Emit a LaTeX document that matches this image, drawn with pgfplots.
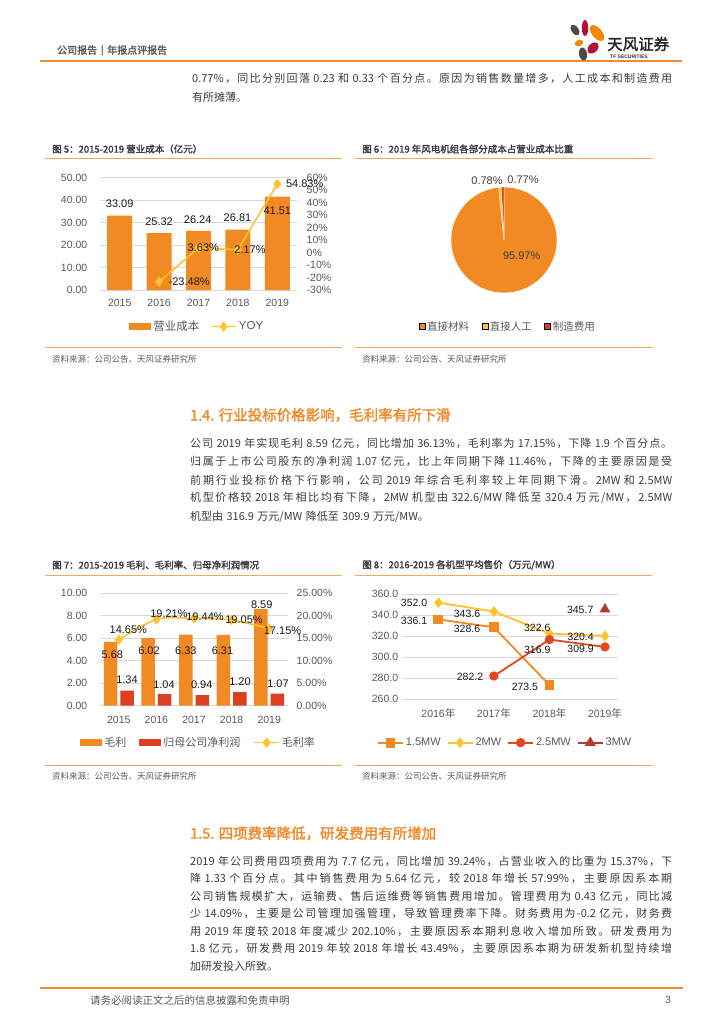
\documentclass[border=0pt]{standalone}
\usepackage{fontspec}
\setmainfont{Liberation Sans}
\newfontfamily\cjk[AutoFakeBold=2]{Noto Sans CJK SC}
\usepackage{pgfplots}
\pgfplotsset{compat=1.18}
\newXeTeXintercharclass\cjkcls
\newcount\cc
\cc="2E80
\loop \XeTeXcharclass\cc=\cjkcls \advance\cc by 1\relax \ifnum\cc<"A000 \repeat
\cc="FF00
\loop \XeTeXcharclass\cc=\cjkcls \advance\cc by 1\relax \ifnum\cc<"FFF0 \repeat
\XeTeXinterchartokenstate=1
\XeTeXinterchartoks\cjkcls\cjkcls={\hskip 0pt plus 1fil\relax}
\XeTeXinterchartoks 0 \cjkcls={\hskip 0pt plus 1fil\relax}
\XeTeXinterchartoks\cjkcls 0 ={\hskip 0pt plus 1fil\relax}
\newcommand\fs[1]{\fontsize{#1}{#1}\selectfont}
\definecolor{tforange}{HTML}{F28A24}
\definecolor{tfred}{HTML}{DC4020}
\definecolor{tfyellow}{HTML}{FFC12C}
\definecolor{tfdred}{HTML}{B43A2E}
\definecolor{tfred2}{HTML}{E2461F}
\definecolor{lineor}{HTML}{F5A660}
\definecolor{heador}{HTML}{F08A2A}
\definecolor{gridc}{HTML}{D9D9D9}
\definecolor{tickc}{HTML}{595959}
\definecolor{txt}{HTML}{3C3C3C}
\definecolor{lbl}{HTML}{1A1A1A}
\definecolor{logogray}{HTML}{4A4A4A}
\definecolor{logored}{HTML}{B0103A}
\definecolor{logoor}{HTML}{F08A00}
\pgfplotsset{
  barleg/.style={legend image code/.code={\fill[##1] (0pt,-3.6pt) rectangle (22pt,3.6pt);}},
  sqleg/.style={legend image code/.code={\fill[##1] (0pt,-3pt) rectangle (6pt,3pt);}},
  lineleg/.style={legend image code/.code={\draw[mark repeat=2,mark phase=2,##1] plot coordinates {(0pt,0pt) (12.5pt,0pt) (25pt,0pt)};}},
  tfbase/.style={scale only axis, clip=false, axis line style={draw=none}, major tick length=0pt,
     /pgf/number format/assume math mode=true,
     tick label style={font=\fs{10.5}, text=tickc},
     legend style={draw=none, fill=none, legend columns=-1, font=\fs{11}, text=tickc, inner sep=0pt, outer sep=0pt}},
}
\newcommand\JL[4]{\node[anchor=west,inner sep=0pt,text=txt] at (#1,#2) {\cjk\fs{11}\spaceskip=3.4pt plus 0.3pt\relax\hbox to #3pt{#4}};}
\newcommand\LL[3]{\node[anchor=west,inner sep=0pt,text=txt] at (#1,#2) {\cjk\fs{11}\spaceskip=3.4pt\relax #3};}
\begin{document}
\begin{tikzpicture}
\useasboundingbox (0,0) rectangle (724pt,-1024pt);
\fill[white] (0,0) rectangle (724pt,-1024pt);
\pgfmathsetmacro\ptot{95.97+0.78+0.77}
\pgfmathsetmacro\pA{95.97/\ptot*360}
\pgfmathsetmacro\pB{0.78/\ptot*360}
\pgfmathsetmacro\pC{0.77/\ptot*360}
\begin{scope}[x=1pt,y=-1pt]
% header
\node[anchor=west,inner sep=0pt,text=tickc] at (57,50) {\cjk\bfseries\fs{10}公司报告｜年报点评报告};
\draw[heador,line width=2pt] (40,61) -- (682,61);
\fill[logogray,rotate around={35:(575,30)}] (575,30) ellipse [x radius=3.5, y radius=6];
\fill[logored] (585,28) ellipse [x radius=3.2, y radius=8];
\fill[logoor,rotate around={40:(597,33)}] (597,33) ellipse [x radius=5, y radius=9.5];
\fill[logoor,rotate around={20:(579,43)}] (579,43) ellipse [x radius=4.5, y radius=3];
\fill[logored,rotate around={-45:(593,48)}] (593,48) ellipse [x radius=4.5, y radius=6.5];
\fill[logogray,rotate around={10:(583,54)}] (583,54) ellipse [x radius=4, y radius=6.5];
\node[anchor=west,inner sep=0pt,text=black!85] at (607,44) {\cjk\bfseries\fs{15.5}天风证券};
\node[anchor=west,inner sep=0pt,text=black!80] at (610,56.5) {\bfseries\fs{5}TF SECURITIES};
% intro paragraph
\JL{192}{78}{480}{0.77\%，同比分别回落 0.23 和 0.33 个百分点。原因为销售数量增多，人工成本和制造费用}
\LL{192}{97}{有所摊薄。}
% figure titles and rules
\node[anchor=west,inner sep=0pt,text=txt] at (52,149) {\cjk\bfseries\fs{9.5}图 5：2015-2019 营业成本（亿元）};
\node[anchor=west,inner sep=0pt,text=txt] at (362,149) {\cjk\bfseries\fs{9.5}图 6：2019 年风电机组各部分成本占营业成本比重};
\draw[lineor,line width=1pt] (45,158.3) -- (341.7,158.3);
\draw[lineor,line width=1pt] (355,158.3) -- (651.7,158.3);
\draw[lineor,line width=1pt] (45,347.3) -- (341.7,347.3);
\draw[lineor,line width=1pt] (355,347.3) -- (651.7,347.3);
\node[anchor=west,inner sep=0pt,text=tickc] at (52,359.3) {\cjk\fs{8.5}资料来源：公司公告、天风证券研究所};
\node[anchor=west,inner sep=0pt,text=tickc] at (362,359.3) {\cjk\fs{8.5}资料来源：公司公告、天风证券研究所};
% section 1.4
\node[anchor=west,inner sep=0pt,text=heador] at (190,415) {\cjk\bfseries\fs{14.5}1.4. 行业投标价格影响，毛利率有所下滑};
\JL{190}{443.3}{482}{公司 2019 年实现毛利 8.59 亿元，同比增加 36.13\%，毛利率为 17.15\%，下降 1.9 个百分点。}
\JL{190}{461.7}{482}{归属于上市公司股东的净利润 1.07 亿元，比上年同期下降 11.46\%，下降的主要原因是受}
\JL{190}{480}{482}{前期行业投标价格下行影响，公司 2019 年综合毛利率较上年同期下滑。2MW 和 2.5MW}
\JL{190}{498.3}{482}{机型价格较 2018 年相比均有下降，2MW 机型由 322.6/MW 降低至 320.4 万元/MW，2.5MW}
\LL{190}{516.7}{机型由 316.9 万元/MW 降低至 309.9 万元/MW。}
% figure 7/8 titles
\node[anchor=west,inner sep=0pt,text=txt] at (52,565) {\cjk\bfseries\fs{9.5}图 7：2015-2019 毛利、毛利率、归母净利润情况};
\node[anchor=west,inner sep=0pt,text=txt] at (362,565) {\cjk\bfseries\fs{9.5}图 8：2016-2019 各机型平均售价（万元/MW）};
\draw[lineor,line width=1pt] (45,575) -- (341.7,575);
\draw[lineor,line width=1pt] (355,575) -- (651.7,575);
\draw[lineor,line width=1pt] (45,765) -- (341.7,765);
\draw[lineor,line width=1pt] (355,765) -- (651.7,765);
\node[anchor=west,inner sep=0pt,text=tickc] at (52,776) {\cjk\fs{8.5}资料来源：公司公告、天风证券研究所};
\node[anchor=west,inner sep=0pt,text=tickc] at (362,776) {\cjk\fs{8.5}资料来源：公司公告、天风证券研究所};
% section 1.5
\node[anchor=west,inner sep=0pt,text=heador] at (190,833.3) {\cjk\bfseries\fs{14.5}1.5. 四项费率降低，研发费用有所增加};
\JL{190}{861.5}{482}{2019 年公司费用四项费用为 7.7 亿元，同比增加 39.24\%，占营业收入的比重为 15.37\%，下}
\JL{190}{878.9}{482}{降 1.33 个百分点。其中销售费用为 5.64 亿元，较 2018 年增长 57.99\%，主要原因系本期}
\JL{190}{896.3}{482}{公司销售规模扩大，运输费、售后运维费等销售费用增加。管理费用为 0.43 亿元，同比减}
\JL{190}{913.7}{482}{少 14.09\%，主要是公司管理加强管理，导致管理费率下降。财务费用为-0.2 亿元，财务费}
\JL{190}{931.1}{482}{用 2019 年度较 2018 年度减少 202.10\%，主要原因系本期利息收入增加所致。研发费用为}
\JL{190}{948.5}{482}{1.8 亿元，研发费用 2019 年较 2018 年增长 43.49\%，主要原因系本期为研发新机型持续增}
\LL{190}{965.9}{加研发投入所致。}
% footer
\draw[heador,line width=2pt] (40,988) -- (683,988);
\node[anchor=west,inner sep=0pt,text=tickc] at (90,1000) {\cjk\fs{10.5}请务必阅读正文之后的信息披露和免责申明};
\node[anchor=center,inner sep=0pt,text=tickc] at (668,1000) {\fs{10.5}3};
\end{scope}

% ---------------- Figure 5 ----------------
\begin{axis}[tfbase, at={(100pt,-290pt)}, anchor=south west,
  width=197pt, height=112.5pt,
  xmin=-0.5, xmax=4.5, ymin=0, ymax=50,
  ymajorgrids, grid style={gridc, line width=0.8pt},
  xtick={0,1,2,3,4}, xticklabels={2015,2016,2017,2018,2019},
  ytick={0,10,20,30,40,50},
  yticklabel={\pgfmathprintnumber[fixed,fixed zerofill,precision=2]{\tick}},
  yticklabel style={xshift=-9.2pt},
  xticklabel style={yshift=-5.5pt},
  ybar, bar width=25pt]
\addplot[fill=tforange, draw=none] coordinates {(0,33.09) (1,25.32) (2,26.24) (3,26.81) (4,41.51)};
\end{axis}
\begin{axis}[tfbase, at={(100pt,-290pt)}, anchor=south west,
  width=197pt, height=112.5pt,
  xmin=-0.5, xmax=4.5, ymin=-30, ymax=60,
  axis y line*=right, axis x line=none,
  ytick={-30,-20,-10,0,10,20,30,40,50,60},
  yticklabel={\pgfmathprintnumber[fixed,precision=0]{\tick}\%},
  yticklabel style={xshift=6.2pt},
  legend style={at={(0.494,-0.326)}, anchor=center, font=\fs{11.5},
    /tikz/every even column/.append style={column sep=9pt}}]
\addlegendimage{barleg, fill=tforange, draw=none}
\addlegendentry{\cjk 营业成本}
\addplot[lineleg, tfyellow, line width=1.6pt, mark=diamond*, mark size=4pt, mark options={fill=tfyellow}] coordinates {(1,-23.48) (2,3.63) (3,2.17) (4,54.83)};
\addlegendentry{YOY}
\end{axis}
\begin{axis}[tfbase, at={(100pt,-290pt)}, anchor=south west,
  width=197pt, height=112.5pt, hide axis,
  xmin=-0.5, xmax=4.5, ymin=-30, ymax=60]
\node[font=\fs{11},text=lbl] at (axis cs:0,38.92) {33.09};
\node[font=\fs{11},text=lbl] at (axis cs:1,24.74) {25.32};
\node[font=\fs{11},text=lbl] at (axis cs:1.98,26.11) {26.24};
\node[font=\fs{11},text=lbl] at (axis cs:2.99,27.94) {26.81};
\node[font=\fs{11},text=lbl] at (axis cs:4,33.31) {41.51};
\node[font=\fs{11},text=lbl] at (axis cs:1.764,-23.34) {-23.48\%};
\node[font=\fs{11},text=lbl] at (axis cs:2.122,3.43) {3.63\%};
\node[font=\fs{11},text=lbl] at (axis cs:3.307,2.06) {2.17\%};
\node[font=\fs{11},text=lbl] at (axis cs:4.695,54.96) {54.83\%};
\end{axis}

% ---------------- Figure 6 (pie) ----------------
\begin{axis}[tfbase, at={(504pt,-240pt)}, anchor=center,
  width=106pt, height=106pt, xmin=-1, xmax=1, ymin=-1, ymax=1, hide axis,
  legend style={at={(0.535,-0.315)}, anchor=center, font=\fs{10.5},
    /tikz/every even column/.append style={column sep=10.5pt}}]
\addlegendimage{sqleg, fill=tforange}
\addlegendentry{\cjk 直接材料}
\addlegendimage{sqleg, fill=tfyellow}
\addlegendentry{\cjk 直接人工}
\addlegendimage{sqleg, fill=tfred}
\addlegendentry{\cjk 制造费用}
\filldraw[fill=tforange, draw=white, line width=0.5pt] (axis cs:0,0) -- (axis cs:0,1) arc[start angle=90, delta angle=-\pA, radius=53pt] -- cycle;
\filldraw[fill=tfyellow, draw=white, line width=0.3pt] (axis cs:0,0) -- ++({90-\pA}:53pt) arc[start angle={90-\pA}, delta angle=-\pB, radius=53pt] -- cycle;
\filldraw[fill=tfred, draw=white, line width=0.3pt] (axis cs:0,0) -- ++({90-\pA-\pB}:53pt) arc[start angle={90-\pA-\pB}, delta angle=-\pC, radius=53pt] -- cycle;
\node[font=\fs{11},text=txt] at (axis cs:-0.321,1.123) {0.78\%};
\node[font=\fs{11},text=txt] at (axis cs:0.358,1.136) {0.77\%};
\node[font=\fs{11},text=txt] at (axis cs:0.333,-0.296) {95.97\%};
\end{axis}

% ---------------- Figure 7 ----------------
\begin{axis}[tfbase, at={(100pt,-705.7pt)}, anchor=south west,
  width=188pt, height=112.4pt,
  xmin=-0.5, xmax=4.5, ymin=0, ymax=10,
  ymajorgrids, grid style={gridc, line width=0.8pt},
  xtick={0,1,2,3,4}, xticklabels={2015,2016,2017,2018,2019},
  ytick={0,2,4,6,8,10},
  yticklabel={\pgfmathprintnumber[fixed,fixed zerofill,precision=2]{\tick}},
  yticklabel style={xshift=-9.2pt},
  xticklabel style={yshift=-7pt},
  ybar=3pt, bar width=13.5pt]
\addplot[fill=tforange, draw=none] coordinates {(0,5.68) (1,6.02) (2,6.33) (3,6.31) (4,8.59)};
\addplot[fill=tfred, draw=none] coordinates {(0,1.34) (1,1.04) (2,0.94) (3,1.20) (4,1.07)};
\end{axis}
\begin{axis}[tfbase, at={(100pt,-705.7pt)}, anchor=south west,
  width=188pt, height=112.4pt,
  xmin=-0.5, xmax=4.5, ymin=0, ymax=25,
  axis y line*=right, axis x line=none,
  ytick={0,5,10,15,20,25},
  yticklabel={\pgfmathprintnumber[fixed,fixed zerofill,precision=2]{\tick}\%},
  yticklabel style={xshift=5.2pt},
  legend style={at={(0.525,-0.329)}, anchor=center, font=\fs{11},
    /tikz/every even column/.append style={column sep=11pt}}]
\addlegendimage{barleg, fill=tforange, draw=none}
\addlegendentry{\cjk 毛利}
\addlegendimage{barleg, fill=tfred, draw=none}
\addlegendentry{\cjk 归母公司净利润}
\addplot[lineleg, tfyellow, line width=1.6pt, smooth, mark=diamond*, mark size=4pt, mark options={fill=tfyellow}] coordinates {(0,14.65) (1,19.21) (2,19.44) (3,19.05) (4,17.15)};
\addlegendentry{\cjk 毛利率}
\end{axis}
\begin{axis}[tfbase, at={(100pt,-705.7pt)}, anchor=south west,
  width=188pt, height=112.4pt, hide axis,
  xmin=-0.5, xmax=4.5, ymin=0, ymax=25]
\node[font=\fs{11},text=lbl] at (axis cs:-0.173,11.28) {5.68};
\node[font=\fs{11},text=lbl] at (axis cs:0.218,5.72) {1.34};
\node[font=\fs{11},text=lbl] at (axis cs:0.803,12.23) {6.02};
\node[font=\fs{11},text=lbl] at (axis cs:1.202,4.76) {1.04};
\node[font=\fs{11},text=lbl] at (axis cs:1.782,12.23) {6.33};
\node[font=\fs{11},text=lbl] at (axis cs:2.205,4.76) {0.94};
\node[font=\fs{11},text=lbl] at (axis cs:2.758,12.23) {6.31};
\node[font=\fs{11},text=lbl] at (axis cs:3.223,5.34) {1.20};
\node[font=\fs{11},text=lbl] at (axis cs:3.801,22.40) {8.59};
\node[font=\fs{11},text=lbl] at (axis cs:4.234,4.98) {1.07};
\node[font=\fs{11},text=lbl] at (axis cs:0.253,16.84) {14.65\%};
\node[font=\fs{11},text=lbl] at (axis cs:1.335,20.55) {19.21\%};
\node[font=\fs{11},text=lbl] at (axis cs:2.293,19.80) {19.44\%};
\node[font=\fs{11},text=lbl] at (axis cs:3.330,19.22) {19.05\%};
\node[font=\fs{11},text=lbl] at (axis cs:4.354,16.68) {17.15\%};
\end{axis}

% ---------------- Figure 8 ----------------
\begin{axis}[tfbase, at={(401.7pt,-699.3pt)}, anchor=south west,
  width=216.6pt, height=105pt,
  xmin=-0.66, xmax=3.24, ymin=260, ymax=360,
  ymajorgrids, grid style={gridc, line width=0.8pt},
  xtick={0,1,2,3}, xticklabels={2016{\cjk 年},2017{\cjk 年},2018{\cjk 年},2019{\cjk 年}},
  ytick={260,280,300,320,340,360},
  yticklabel={\pgfmathprintnumber[fixed,fixed zerofill,precision=1]{\tick}},
  xticklabel style={yshift=-6pt},
  legend style={at={(0.478,-0.413)}, anchor=center, font=\fs{11},
    /tikz/every even column/.append style={column sep=4pt}}]
\addplot[lineleg, tforange, line width=1.8pt, mark=square*, mark size=4pt, mark options={fill=tforange}] coordinates {(0,336.1) (1,328.6) (2,273.5)};
\addlegendentry{1.5MW}
\addplot[lineleg, tfyellow, line width=1.8pt, mark=diamond*, mark size=4pt, mark options={fill=tfyellow}] coordinates {(0,352.0) (1,343.6) (2,322.6) (3,320.4)};
\addlegendentry{2MW}
\addplot[lineleg, tfred2, line width=1.8pt, mark=*, mark size=3.7pt, mark options={fill=tfred2}] coordinates {(1,282.2) (2,316.9) (3,309.9)};
\addlegendentry{2.5MW}
\addplot[lineleg, tfdred, line width=1.8pt, mark=triangle*, mark size=4.5pt, mark options={fill=tfdred}] coordinates {(3,345.7)};
\addlegendentry{3MW}
\end{axis}
\begin{axis}[tfbase, at={(401.7pt,-699.3pt)}, anchor=south west,
  width=216.6pt, height=105pt, hide axis,
  xmin=-0.66, xmax=3.24, ymin=260, ymax=360]
\node[font=\fs{10.5},text=lbl] at (axis cs:-0.437,351.4) {352.0};
\node[font=\fs{10.5},text=lbl] at (axis cs:-0.437,334.9) {336.1};
\node[font=\fs{10.5},text=lbl] at (axis cs:0.516,341.0) {343.6};
\node[font=\fs{10.5},text=lbl] at (axis cs:0.516,327.0) {328.6};
\node[font=\fs{10.5},text=lbl] at (axis cs:1.781,327.6) {322.6};
\node[font=\fs{10.5},text=lbl] at (axis cs:0.570,281.0) {282.2};
\node[font=\fs{10.5},text=lbl] at (axis cs:1.781,307.0) {316.9};
\node[font=\fs{10.5},text=lbl] at (axis cs:1.559,272.0) {273.5};
\node[font=\fs{10.5},text=lbl] at (axis cs:2.561,319.0) {320.4};
\node[font=\fs{10.5},text=lbl] at (axis cs:2.561,308.2) {309.9};
\node[font=\fs{10.5},text=lbl] at (axis cs:2.554,345.0) {345.7};
\end{axis}
\end{tikzpicture}
\end{document}
